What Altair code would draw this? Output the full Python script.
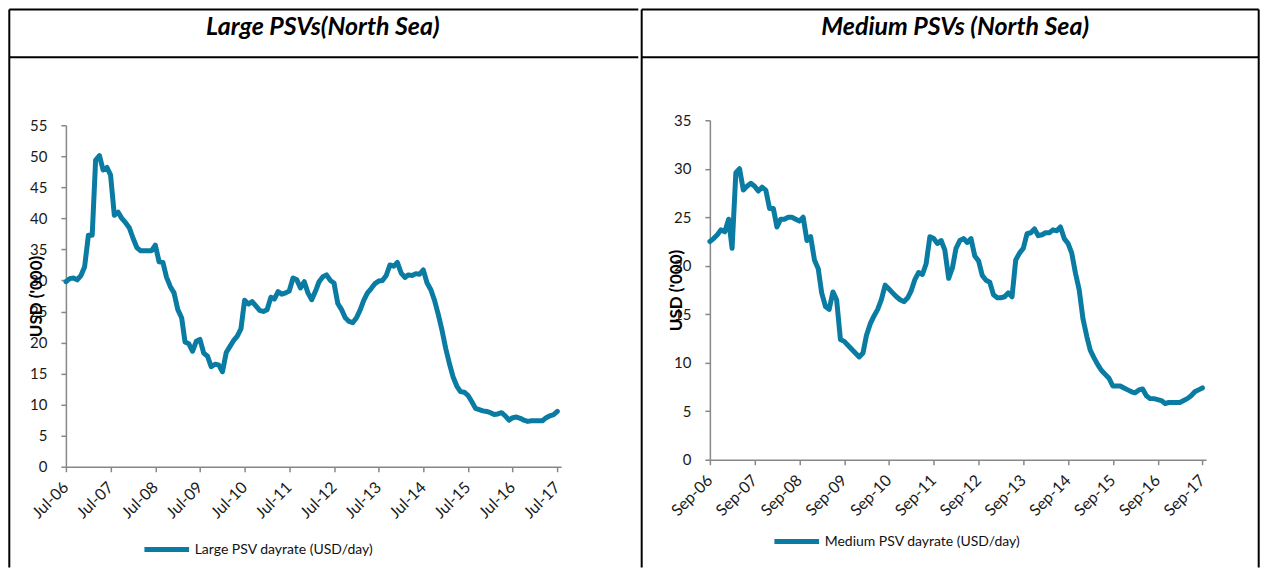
import altair as alt
import pandas as pd

# ---------------- data ----------------
large_start = "2006-07-01"
large_values = [
    29.8, 30.3, 30.4, 30.1, 30.8, 32.2, 37.3, 37.3, 49.4, 50.1, 47.8, 48.2,
    47.0, 40.5, 41.0, 40.0, 39.3, 38.5, 36.8, 35.3, 34.8, 34.8, 34.8, 34.8,
    35.7, 33.0, 32.9, 30.5, 29.0, 28.0, 25.3, 24.0, 20.1, 19.8, 18.6, 20.2,
    20.5, 18.3, 17.8, 16.1, 16.5, 16.4, 15.3, 18.4, 19.3, 20.3, 21.0, 22.2,
    26.8, 26.2, 26.6, 25.9, 25.2, 25.0, 25.3, 27.3, 27.0, 28.2, 27.8, 28.0,
    28.3, 30.4, 30.1, 28.8, 29.8, 28.0, 26.9, 28.3, 29.8, 30.6, 30.9, 30.0,
    29.6, 26.3, 25.3, 24.0, 23.4, 23.2, 24.0, 25.3, 26.8, 28.0, 28.7, 29.5,
    29.9, 30.0, 30.8, 32.5, 32.3, 32.9, 31.2, 30.5, 30.9, 30.8, 31.1, 31.0,
    31.7, 29.6, 28.5, 26.8, 24.5, 22.0, 19.0, 16.5, 14.5, 13.0, 12.1, 12.0,
    11.5, 10.5, 9.4, 9.2, 9.0, 8.9, 8.7, 8.4, 8.5, 8.7, 8.2, 7.5,
    7.9, 8.0, 7.8, 7.5, 7.3, 7.4, 7.4, 7.4, 7.4, 7.9, 8.2, 8.4,
    8.9,
]
large_label = "Large PSV dayrate (USD/day)"
large_title = "Large PSVs(North Sea)"
large_ticks_years = list(range(2006, 2018))  # Jul-06 ... Jul-17

medium_start = "2006-09-01"
medium_values = [
    22.5, 22.8, 23.2, 23.7, 23.5, 24.8, 21.8, 29.6, 30.0, 27.8, 28.2, 28.5,
    28.2, 27.7, 28.1, 27.8, 25.9, 25.9, 24.0, 24.8, 24.8, 25.0, 25.0, 24.8,
    24.6, 25.0, 22.6, 23.0, 20.6, 19.7, 17.2, 15.8, 15.5, 17.3, 16.5, 12.4,
    12.2, 11.8, 11.4, 11.0, 10.6, 11.0, 12.8, 14.0, 14.8, 15.5, 16.5, 18.0,
    17.6, 17.2, 16.8, 16.5, 16.3, 16.7, 17.4, 18.6, 19.3, 19.1, 20.2, 23.0,
    22.8, 22.3, 22.6, 21.6, 18.7, 19.8, 21.8, 22.6, 22.8, 22.4, 22.8, 21.0,
    20.5, 19.0, 18.5, 18.3, 17.0, 16.7, 16.7, 16.8, 17.2, 16.8, 20.6, 21.3,
    21.8, 23.3, 23.4, 23.8, 23.1, 23.2, 23.4, 23.4, 23.7, 23.6, 24.0, 22.8,
    22.3, 21.3, 19.2, 17.5, 14.5, 12.7, 11.3, 10.5, 9.8, 9.2, 8.8, 8.4,
    7.6, 7.6, 7.6, 7.4, 7.2, 7.0, 6.9, 7.2, 7.3, 6.6, 6.3, 6.3,
    6.2, 6.1, 5.8, 5.9, 5.9, 5.9, 5.9, 6.1, 6.3, 6.6, 7.0, 7.2,
    7.4,
]
medium_label = "Medium PSV dayrate (USD/day)"
medium_title = "Medium PSVs (North Sea)"
medium_ticks_years = list(range(2006, 2018))  # Sep-06 ... Sep-17

y_title = "USD ('000)"
LINE_COLOR = "#0a7ba2"
FONT = "Lato"


def make_df(start, values, label):
    dates = pd.date_range(start, periods=len(values), freq="MS")
    return pd.DataFrame({
        "date": dates.strftime("%Y-%m-%d"),
        "value": values,
        "series": label,
    })


one = pd.DataFrame({"k": [0]})


def rule(x1, x2, y1, y2):
    return alt.Chart(one).mark_rule(color="black", strokeWidth=2).encode(
        x=alt.value(x1), x2=alt.value(x2), y=alt.value(y1), y2=alt.value(y2)
    )


def panel(df, tick_month, domain_start, domain_end, y_max, title, geom):
    W, H = geom["W"], geom["H"]
    tick_values = [alt.DateTime(year=y, month=tick_month, date=1, utc=True)
                   for y in geom["years"]]
    line = alt.Chart(df).mark_line(
        strokeWidth=5, strokeJoin="round", strokeCap="round"
    ).encode(
        x=alt.X(
            "date:T",
            scale=alt.Scale(type="utc", domain=[domain_start, domain_end]),
            axis=alt.Axis(
                values=tick_values, format="%b-%y", title=None,
                labelAngle=315, labelAlign="right", labelBaseline="top",
                labelPadding=geom["xlp"], labelOffset=geom["xlo"],
                labelFontSize=16,
                labelOverlap=False, labelFlush=False, labelBound=False,
                tickSize=5, grid=False,
            ),
        ),
        y=alt.Y(
            "value:Q",
            scale=alt.Scale(domain=[0, y_max], nice=False, zero=True,
                            range=[H, geom["ytop"]]),
            axis=alt.Axis(
                values=list(range(0, y_max + 1, 5)), title=y_title,
                titleX=geom["tx"], titleY=(H + geom["ytop"]) / 2,
                titleAngle=270,
                titleAlign="center", titleBaseline="middle",
                titleFont=FONT, titleFontSize=17, titleFontWeight="bold",
                titleColor="black",
                labelPadding=14, tickSize=5, grid=False, labelFlush=False,
            ),
        ),
        color=alt.Color(
            "series:N",
            scale=alt.Scale(range=[LINE_COLOR]),
            legend=alt.Legend(
                orient="none", legendX=geom["lx"], legendY=geom["ly"],
                title=None, symbolType="stroke", symbolSize=2000,
                symbolStrokeWidth=5, labelFont=FONT, labelFontSize=14,
                labelColor="#111111", padding=0, labelOffset=3,
                labelLimit=0,
            ),
        ),
    )
    L, R, T, B, D = geom["L"], geom["R"], geom["T"], geom["B"], geom["D"]
    layers = [line,
              rule(L, L, T, B),
              rule(L, R, T, T),
              rule(L, R, D, D)]
    if geom.get("right_border"):
        layers.append(rule(R, R, T, B))
    head = alt.Chart(one).mark_text(
        font=FONT, fontSize=25, fontWeight="bold", fontStyle="italic",
        color="black", align="center", baseline="middle",
    ).encode(x=alt.value(geom["hx"]), y=alt.value(geom["hy"]),
             text=alt.value(title))
    layers.append(head)
    return alt.layer(*layers).properties(width=W, height=H)


# page coordinates -> plot-relative (both plot origins at page y=120;
# left origin x=65.7, right origin x=709.3)
left_geom = dict(W=496, H=347, ytop=5, years=large_ticks_years,
                 L=-56.7, R=573.3, T=-111, B=448, D=-63,
                 hx=257.3, hy=-93, tx=-29, lx=76, ly=405, xlp=7, xlo=-6)
right_geom = dict(W=497, H=340, ytop=0, years=medium_ticks_years,
                  L=-68.3, R=549.7, T=-111, B=448, D=-63,
                  hx=245.7, hy=-93, tx=-33, lx=62, ly=397, xlp=7, xlo=-6,
                  right_border=True)

left = panel(make_df(large_start, large_values, large_label), 7,
             alt.DateTime(year=2006, month=7, date=1, utc=True),
             alt.DateTime(year=2017, month=8, date=1, utc=True),
             55, large_title, left_geom)
right = panel(make_df(medium_start, medium_values, medium_label), 9,
              alt.DateTime(year=2006, month=9, date=1, utc=True),
              alt.DateTime(year=2017, month=10, date=1, utc=True),
              35, medium_title, right_geom)

chart = alt.hconcat(left, right, spacing=0).resolve_scale(
    color="independent", x="independent", y="independent"
).resolve_legend(color="independent").properties(
    padding=0, background="white"
).configure_view(stroke=None).configure_axis(
    domainColor="#878787", tickColor="#878787", domainWidth=1.5, tickWidth=1.5,
    labelFont=FONT, labelFontSize=15, labelColor="#1a1a1a",
)

chart.save("out.html", embed_options={"renderer": "svg", "actions": False})
